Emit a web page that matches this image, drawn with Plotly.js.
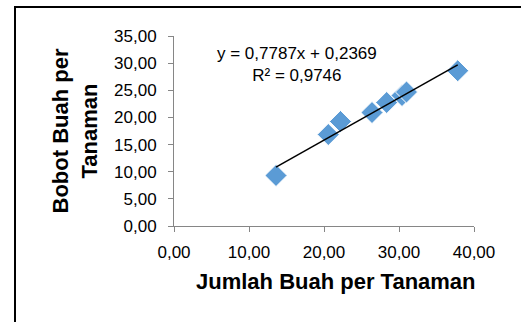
<!DOCTYPE html>
<html>
<head>
<meta charset="utf-8">
<script src="https://cdn.plot.ly/plotly-3.0.1.min.js"></script>
<style>
  html, body { margin: 0; padding: 0; background: #fff; }
  #frame { position: absolute; left: 14px; top: 6px; width: 520px; height: 330px;
           border-left: 2px solid #000; border-top: 2px solid #000; }
  #chart { position: absolute; left: 0; top: 0; width: 521px; height: 322px; }
</style>
</head>
<body>
<div id="frame"></div>
<div id="chart"></div>
<script>
// Data
const jumlahBuah = [13.6, 20.57, 22.2, 26.4, 28.36, 30.4, 31.0, 37.83];
const bobotBuah  = [9.3, 16.85, 19.25, 20.9, 22.75, 24.04, 24.68, 28.6];
const slope = 0.7787;
const intercept = 0.2369;
const r2 = 0.9746;
const xTickVals = [0, 10, 20, 30, 40];
const yTickVals = [0, 5, 10, 15, 20, 25, 30, 35];
const xTitle = 'Jumlah Buah per Tanaman';
const yTitle = 'Bobot Buah per<br>Tanaman';

const fmt = v => v.toFixed(4).replace('.', ',');
const xMin = Math.min(...jumlahBuah), xMax = Math.max(...jumlahBuah);

const points = {
  x: jumlahBuah, y: bobotBuah, type: 'scatter', mode: 'markers',
  marker: { symbol: 'diamond', size: 17, color: '#5B9BD5', line: { color: '#ffffff', width: 1 } },
  hoverinfo: 'x+y', showlegend: false
};
const trend = {
  x: [xMin, xMax], y: [slope * xMin + intercept, slope * xMax + intercept],
  type: 'scatter', mode: 'lines', line: { color: '#000000', width: 1.5 },
  hoverinfo: 'skip', showlegend: false
};

const font = 'Liberation Sans, Arial, sans-serif';
const layout = {
  width: 521, height: 322,
  margin: { l: 174, r: 47, t: 36, b: 96 },
  paper_bgcolor: 'rgba(0,0,0,0)', plot_bgcolor: 'rgba(0,0,0,0)',
  separators: ', ',
  font: { family: font, color: '#000', size: 17 },
  xaxis: {
    range: [0, 40], tickvals: xTickVals, tickformat: '.2f',
    showgrid: false, zeroline: false, showline: true, linecolor: '#868686', linewidth: 1,
    ticks: 'outside', ticklen: 5, tickcolor: '#868686', ticklabelstandoff: 6,
    tickfont: { size: 17, family: font, color: '#000' }
  },
  yaxis: {
    range: [0, 35], tickvals: yTickVals, tickformat: '.2f',
    showgrid: false, zeroline: false, showline: true, linecolor: '#868686', linewidth: 1,
    ticks: 'outside', ticklen: 5, tickcolor: '#868686', ticklabelstandoff: 8,
    tickfont: { size: 17, family: font, color: '#000' },
    title: { text: yTitle, font: { size: 22, family: font, color: '#000', weight: 'bold' }, standoff: 10 }
  },
  annotations: [{
    xref: 'x', yref: 'y', x: 16.4, y: 29.75, xanchor: 'center', yanchor: 'middle',
    text: 'y = ' + fmt(slope) + 'x + ' + fmt(intercept) + '<br>R² = ' + fmt(r2),
    showarrow: false, align: 'center', font: { size: 17, family: font, color: '#000' }
  }, {
    xref: 'paper', yref: 'paper', x: 0.54, y: -0.29, xanchor: 'center', yanchor: 'middle',
    text: xTitle, showarrow: false,
    font: { size: 22, family: font, color: '#000', weight: 'bold' }
  }]
};

Plotly.newPlot('chart', [points, trend], layout, { displayModeBar: false, staticPlot: true });
</script>
</body>
</html>
